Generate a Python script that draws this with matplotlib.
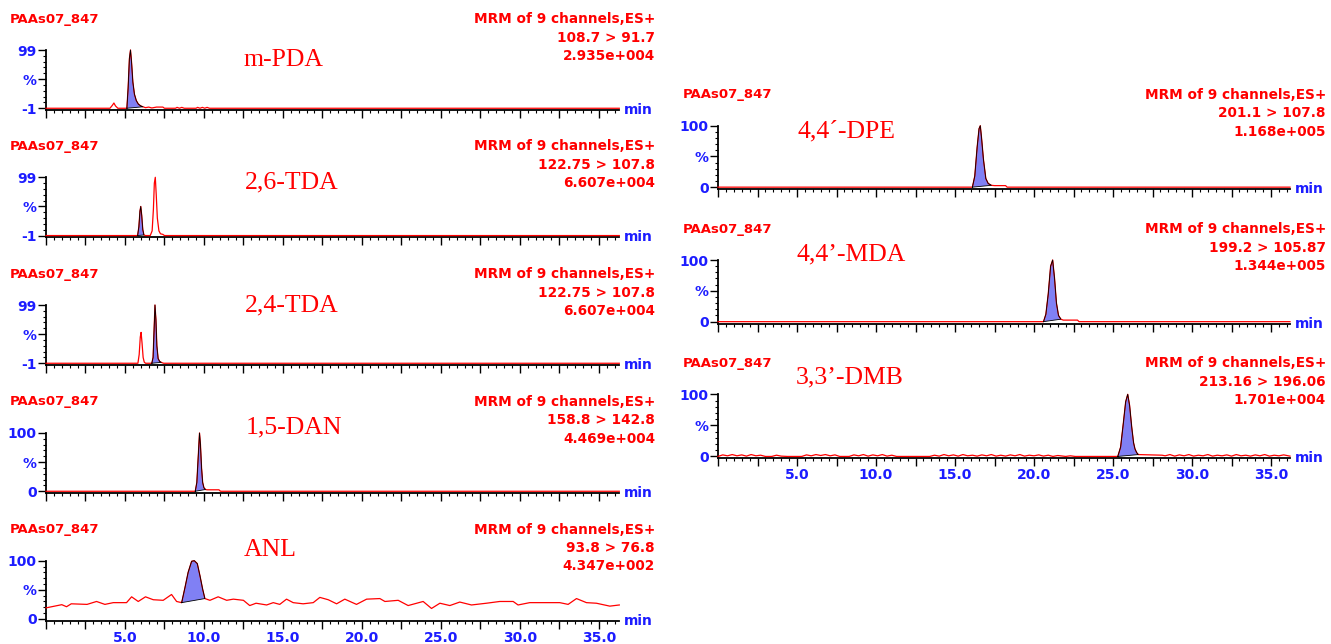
import numpy as np
import matplotlib
matplotlib.use('Agg')
import matplotlib.pyplot as plt
from matplotlib.ticker import MultipleLocator, FixedLocator, FuncFormatter

# ---------------- data ----------------
sample = 'PAAs07_847'
header = 'MRM of 9 channels,ES+'

compounds = ['m-PDA', '2,6-TDA', '2,4-TDA', '1,5-DAN', 'ANL',
             '4,4\u00b4-DPE', '4,4\u2019-MDA', '3,3\u2019-DMB']
transitions = ['108.7 > 91.7', '122.75 > 107.8', '122.75 > 107.8', '158.8 > 142.8',
               '93.8 > 76.8', '201.1 > 107.8', '199.2 > 105.87', '213.16 > 196.06']
intensities = ['2.935e+004', '6.607e+004', '6.607e+004', '4.469e+004',
               '4.347e+002', '1.168e+005', '1.344e+005', '1.701e+004']
y_ranges = [(-1, 99), (-1, 99), (-1, 99), (0, 100), (0, 100),
            (0, 100), (0, 100), (0, 100)]
x_tick_labels = ['5.0', '10.0', '15.0', '20.0', '25.0', '30.0', '35.0']

mpda_t = [0.0, 4.05, 4.2, 4.3, 4.4, 4.55, 5.12, 5.2, 5.28, 5.35, 5.42, 5.5, 5.6, 5.72, 5.85,
          6.0, 6.14, 6.3, 6.5, 6.7, 7.0, 7.4, 7.5, 8.2, 8.3, 8.45, 8.6, 8.75, 9.5, 9.6, 9.75,
          9.9, 10.05, 10.2, 10.35, 36.3]
mpda_v = [0, 0, 5, 9, 4, 0, 0, 35, 85, 100, 78, 45, 24, 13, 7,
          4, 2.5, 1, 2, 0.5, 2, 2, 0, 0, 1.5, 0, 1.5, 0, 0, 1.5, 0,
          1.5, 0, 1.5, 0, 0]
mpda_peak = (5.12, 6.14)

tda26_t = [0.0, 5.8, 5.88, 5.95, 6.0, 6.06, 6.13, 6.2, 6.3, 6.6, 6.72, 6.8, 6.86, 6.92,
           6.98, 7.05, 7.15, 7.25, 7.4, 7.5, 36.3]
tda26_v = [0, 0, 15, 42, 50, 35, 10, 1, 0, 0, 8, 45, 90, 100,
           70, 30, 8, 3, 2, 0, 0]
tda26_peak = (5.8, 6.2)

tda24_t = [0.0, 5.82, 5.9, 5.97, 6.02, 6.08, 6.15, 6.22, 6.3, 6.7, 6.78, 6.84, 6.9, 6.96,
           7.02, 7.1, 7.2, 7.3, 7.45, 36.3]
tda24_v = [0, 0, 15, 45, 53, 35, 10, 2, 0, 0, 10, 55, 100, 75,
           30, 8, 3, 1.5, 0, 0]
tda24_peak = (6.7, 7.3)

dan_t = [0.0, 9.45, 9.55, 9.65, 9.72, 9.78, 9.85, 9.92, 10.0, 10.1, 10.2, 10.95, 11.05, 36.3]
dan_v = [0, 0, 15, 65, 100, 80, 40, 15, 6, 3, 2.5, 2.5, 0, 0]
dan_peak = (9.45, 10.1)

anl_t = [0.0, 1.0, 1.3, 1.6, 2.6, 3.2, 3.73, 4.26, 5.1, 5.42, 5.84, 6.3, 6.79, 7.42, 7.95,
         8.27, 8.59, 8.8, 9.0, 9.22, 9.39, 9.58, 9.75, 9.92, 10.06, 10.38, 10.9, 11.44, 11.86,
         12.5, 12.9, 13.3, 13.97, 14.39, 14.8, 15.23, 15.65, 16.28, 16.92, 17.34, 17.87, 18.4,
         18.92, 19.66, 20.3, 21.14, 21.46, 22.3, 22.93, 23.88, 24.41, 24.94, 25.57, 26.2,
         26.94, 27.89, 28.73, 29.58, 29.89, 30.63, 31.47, 32.53, 33.06, 33.59, 34.22, 34.85,
         35.7, 36.3]
anl_v = [19, 24.5, 21, 26, 25, 30, 25, 28, 28, 38, 30, 38, 33, 32, 42,
         30, 28, 54, 80, 99, 100, 95, 74, 51, 35, 32, 38, 32, 34,
         32, 23, 27, 24, 28, 25, 34, 28, 26, 28, 37, 33, 26,
         34, 25, 34, 35, 30, 32, 23, 30, 18, 27, 23, 29,
         24, 27, 30, 30, 24, 28, 28, 28, 25, 35, 28, 27,
         22, 24]
anl_peak = (8.59, 10.06)

dpe_t = [0.0, 16.1, 16.25, 16.4, 16.52, 16.6, 16.68, 16.8, 16.95, 17.1, 17.3, 17.5, 18.2,
         18.3, 36.2]
dpe_v = [0, 0, 18, 65, 95, 100, 80, 45, 14, 6, 3, 2.5, 2.5, 0, 0]
dpe_peak = (16.1, 17.3)

mda_t = [0.0, 20.6, 20.75, 20.9, 21.05, 21.18, 21.3, 21.42, 21.55, 21.7, 21.85, 22.75,
         22.85, 36.2]
mda_v = [0, 0, 12, 45, 90, 100, 70, 30, 10, 4, 2.5, 2.5, 0, 0]
mda_peak = (20.6, 21.7)

dmb_t = [0.0, 0.3, 0.6, 0.9, 1.2, 1.5, 1.8, 2.1, 2.4, 2.7, 3.0, 3.4, 3.7, 4.0, 4.4,
         5.3, 5.6, 5.9, 6.2, 6.5, 6.8, 7.1, 7.4, 7.7, 8.3, 8.6, 8.9, 9.2, 9.5, 9.8,
         10.1, 10.4, 10.7, 11.0, 11.3, 13.4, 13.7, 14.0, 14.3, 14.6, 14.9, 15.2, 15.5, 15.8,
         16.1, 16.4, 16.7, 17.0, 17.3, 17.6, 17.9, 18.2, 18.5, 18.8, 19.1, 19.4, 19.7, 20.0,
         20.3, 20.6, 20.9, 21.2, 21.5, 22.0, 22.3, 22.6, 25.3, 25.48, 25.65, 25.8, 25.93,
         26.05, 26.18, 26.3, 26.39, 26.5, 26.6, 28.1, 28.3, 28.6, 28.9, 29.2, 29.5, 29.8,
         30.1, 30.4, 30.7, 31.0, 31.3, 31.6, 31.9, 32.2, 32.5, 32.8, 33.1, 33.4, 33.7, 34.0,
         34.3, 34.6, 34.9, 35.2, 35.5, 35.8, 36.2]
dmb_v = [0, 2.5, 1, 3, 1, 2.5, 0.5, 3, 1, 2, 0, 0, 2, 0.5, 0,
         0, 2.5, 1, 3, 1.5, 3, 1, 2.5, 0, 0, 2.5, 1, 3, 0.5, 2.5,
         1, 3, 0.5, 2, 0, 0, 2, 0.5, 3, 1, 2.5, 0.5, 3, 1,
         2, 0.5, 2.5, 1, 3, 0.5, 2, 0.5, 2.5, 1, 3, 0.5, 2, 1,
         2.5, 0.5, 2, 0, 1.5, 0, 1, 0, 0, 15, 53, 88, 100,
         82, 48, 22, 12, 6, 3, 2, 1, 3, 0.5, 2.5, 1, 3, 0.5,
         2, 1, 3, 0.5, 2, 1, 2.5, 0.5, 3, 1, 2, 0.5, 2.5, 1,
         3, 0.5, 2, 1, 2.5, 0.5]
dmb_peak = (25.3, 26.6)

traces = [(mpda_t, mpda_v, mpda_peak), (tda26_t, tda26_v, tda26_peak),
          (tda24_t, tda24_v, tda24_peak), (dan_t, dan_v, dan_peak),
          (anl_t, anl_v, anl_peak), (dpe_t, dpe_v, dpe_peak),
          (mda_t, mda_v, mda_peak), (dmb_t, dmb_v, dmb_peak)]

# ---------------- layout (pixels) ----------------
W, H = 1331, 644
RED = '#ff0000'
BLUE = '#1c1cff'
FILL = '#8080f4'

# (x0, x1, top, spine, title_x, right_x, name_cx, name_cy, show_xlabels)
layout = [
    (46, 619.3, 50.0, 110.0, 10, 655, 284, 60, False),
    (46, 619.3, 177.3, 237.3, 10, 655, 292, 182, False),
    (46, 619.3, 305.0, 365.0, 10, 655, 292, 305, False),
    (46, 619.3, 433.0, 493.0, 10, 655, 294, 427, False),
    (46, 619.3, 560.7, 620.7, 10, 655, 270, 550, True),
    (718, 1290, 125.7, 189.0, 683, 1326, 846, 131, False),
    (718, 1290, 260.0, 323.5, 683, 1326, 851, 254, False),
    (718, 1290, 394.3, 458.3, 683, 1326, 850, 377, True),
]

fig = plt.figure(figsize=(W / 100, H / 100), dpi=100)

def fy(py):
    return 1 - py / H

for i, (t, v, peak) in enumerate(traces):
    x0, x1, top, spine, tx, rx, ncx, ncy, showx = layout[i]
    ymin, ymax = y_ranges[i]
    ax = fig.add_axes([x0 / W, fy(spine), (x1 - x0) / W, (spine - top) / H])
    ax.set_xlim(0, 36.3 if x0 < 600 else 36.2)
    ax.set_ylim(ymin - 3, ymax)
    t = np.asarray(t, float)
    y = ymin + np.asarray(v, float)

    # integrated peak
    m = (t >= peak[0] - 1e-9) & (t <= peak[1] + 1e-9)
    pt, py_ = t[m], y[m]
    ax.fill(pt, py_, facecolor=FILL, edgecolor='none', zorder=2)
    ax.plot(t, y, color=RED, lw=0.9, zorder=3, clip_on=False)
    ax.plot(np.r_[pt, pt[0]], np.r_[py_, py_[0]], color='black', lw=0.6, zorder=4,
            clip_on=False)

    for s in ('top', 'right'):
        ax.spines[s].set_visible(False)
    for s in ('left', 'bottom'):
        ax.spines[s].set_linewidth(1.3)

    ymid = (ymin + ymax) / 2
    ax.yaxis.set_major_locator(FixedLocator([ymin, ymid, ymax]))
    ax.yaxis.set_major_formatter(FuncFormatter(
        lambda val, pos, a=ymin, b=ymax: (str(a) if pos == 0 else ('%' if pos == 1 else str(b)))))
    ax.yaxis.set_minor_locator(FixedLocator([ymin + 10 * k for k in range(1, 10) if k != 5]))
    ax.xaxis.set_major_locator(MultipleLocator(2.5))
    ax.xaxis.set_minor_locator(MultipleLocator(0.5))

    def xfmt(val, pos, show=showx):
        if not show:
            return ''
        lab = f'{val:.1f}'
        return lab if lab in x_tick_labels else ''
    ax.xaxis.set_major_formatter(FuncFormatter(xfmt))

    ax.tick_params(which='major', direction='out', length=5.5, width=1.0, pad=1.2,
                   labelcolor=BLUE, labelsize=10)
    ax.tick_params(which='minor', direction='out', length=2.5, width=0.8)
    ax.tick_params(axis='x', which='major', pad=1.8)
    for lab in ax.get_xticklabels() + ax.get_yticklabels():
        lab.set_fontweight('bold')
        lab.set_family('DejaVu Sans')

    ax.text(1.008, 0.0, 'min', transform=ax.transAxes, ha='left', va='center',
            color=BLUE, fontsize=10, fontweight='bold', family='DejaVu Sans')

    # headers
    fig.text(tx / W, fy(top - 31), sample, ha='left', va='center', color=RED,
             fontsize=9.5, fontweight='bold', family='DejaVu Sans')
    for line, off in zip([header, transitions[i], intensities[i]], [-31, -12.5, 5.8]):
        fig.text(rx / W, fy(top + off), line, ha='right', va='center', color=RED,
                 fontsize=9.8, fontweight='bold', family='DejaVu Sans')
    fig.text(ncx / W, fy(ncy), compounds[i], ha='center', va='center', color=RED,
             fontsize=18.5, family='Liberation Serif')

fig.savefig('out.png', dpi=100)
